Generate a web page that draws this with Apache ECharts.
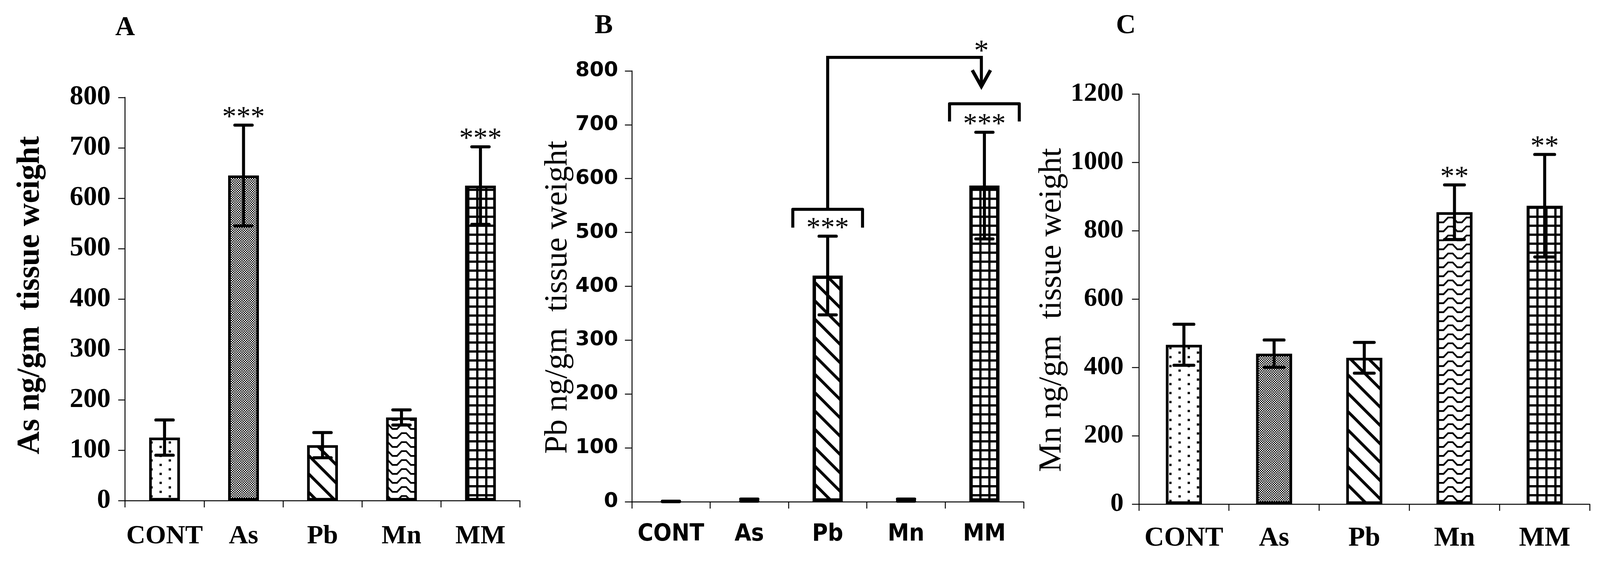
<!DOCTYPE html>
<html>
<head>
<meta charset="utf-8">
<script src="https://cdn.jsdelivr.net/npm/echarts@6/dist/echarts.min.js"></script>
<style>
html,body{margin:0;padding:0;background:#fff;overflow:hidden;}
#chart{width:100vw;height:100vh;}
</style>
</head>
<body>
<div id="chart"></div>
<script>
// ---------- data ----------
const categories = ['CONT', 'As', 'Pb', 'Mn', 'MM'];

const asMean = [125, 645, 110, 165, 625];
const asErr  = [35, 100, 25, 15, 77];
const asStars = ['', '***', '', '', '***'];

const pbMean = [0.5, 3, 420, 3, 587];
const pbErr  = [0.4, 2, 73, 2, 99];
const pbStars = ['', '', '***', '', '***'];

const mnMean = [466, 440, 428, 854, 873];
const mnErr  = [60, 40, 45, 80, 150];
const mnStars = ['', '', '', '**', '**'];

const asTicks = [0, 800, 100];
const pbTicks = [0, 800, 100];
const mnTicks = [0, 1200, 200];

// significance brackets in panel B (values in ng/gm)
const pbBrackets = [
  { cat: 'Pb', top: 543, end: 509 },
  { cat: 'MM', top: 739, end: 706 }
];
const pbLink = { from: 'Pb', to: 'MM', top: 825, tip: 771, star: '*', starAt: 841 };

// ---------- scale (layout designed for a 4222 x 1490 page) ----------
const el = document.getElementById('chart');
const K = el.clientWidth / 4222;
const s = v => v * K;

// ---------- patterns ----------
function tile(w, h, draw) {
  const c = document.createElement('canvas');
  c.width = Math.max(1, Math.round(s(w))); c.height = Math.max(1, Math.round(s(h)));
  const g = c.getContext('2d');
  g.scale(c.width / w, c.height / h);
  g.fillStyle = '#fff'; g.fillRect(0, 0, w, h);
  g.fillStyle = '#000'; g.strokeStyle = '#000';
  draw(g);
  return { image: c, repeat: 'repeat' };
}
const patDots = tile(48, 24, g => { g.fillRect(9, 3, 6, 6); g.fillRect(33, 15, 6, 6); });
const patChecker = tile(6, 6, g => { g.fillRect(0, 0, 3, 3); g.fillRect(3, 3, 3, 3); });
const patDiag = tile(48, 48, g => {
  g.lineWidth = 7.5;
  [-48, 0, 48].forEach(c => { g.beginPath(); g.moveTo(-4, c - 4); g.lineTo(52, 52 + c); g.stroke(); });
});
const patZig = tile(48, 24, g => {
  g.lineWidth = 4.5; g.lineJoin = 'miter';
  g.beginPath();
  g.moveTo(-6, 5); g.lineTo(6, 5); g.lineTo(18, 18); g.lineTo(30, 18); g.lineTo(42, 5); g.lineTo(54, 5);
  g.stroke();
});
const patGrid = tile(24, 24, g => { g.fillRect(0, 0, 24, 6); g.fillRect(0, 0, 6, 24); });
const patterns = [patDots, patChecker, patDiag, patZig, patGrid];

// ---------- helpers ----------
const SERIF = '"Liberation Serif", "Times New Roman", serif';
const SANS = '"Liberation Sans", Arial, sans-serif';
const WIDESANS = '"DejaVu Sans", "Liberation Sans", sans-serif';
const NARROWSANS = '"DejaVu Sans Condensed", "Liberation Sans", sans-serif';

function barData(means) {
  return means.map((v, i) => ({
    value: v,
    itemStyle: v < 10 ? { color: 'rgba(0,0,0,0)', borderWidth: 0 } : { color: patterns[i] }
  }));
}

function errSeries(idx, means, errs, stars, starSize) {
  return {
    type: 'custom',
    xAxisIndex: idx, yAxisIndex: idx,
    z: 5,
    clip: false,
    data: means.map((m, i) => [i, m, errs[i]]),
    renderItem: function (params, api) {
      const i = api.value(0), m = api.value(1), e = api.value(2);
      const top = api.coord([i, m + e]);
      const bot = api.coord([i, m - e]);
      const band = api.size([1, 0])[0];
      const hw = band * 0.11;
      const st = { stroke: '#000', lineWidth: s(8), lineCap: 'butt' };
      const ch = [
        { type: 'line', shape: { x1: top[0], y1: top[1], x2: bot[0], y2: bot[1] }, style: st },
        { type: 'line', shape: { x1: top[0] - hw, y1: top[1], x2: top[0] + hw, y2: top[1] }, style: Object.assign({}, st, { lineCap: 'round' }) },
        { type: 'line', shape: { x1: bot[0] - hw, y1: bot[1], x2: bot[0] + hw, y2: bot[1] }, style: Object.assign({}, st, { lineCap: 'round' }) }
      ];
      if (stars[i]) {
        ch.push({
          type: 'text',
          style: {
            text: stars[i], x: top[0], y: top[1] - s(19),
            align: 'center', verticalAlign: 'middle',
            font: 'normal ' + s(starSize) + 'px ' + SERIF, fill: '#000'
          }
        });
      }
      return { type: 'group', children: ch };
    }
  };
}

function barSeries(idx, means, widthPct, border) {
  return {
    type: 'bar',
    xAxisIndex: idx, yAxisIndex: idx,
    barWidth: widthPct,
    z: 2,
    itemStyle: { borderColor: '#000', borderWidth: s(border) },
    data: barData(means)
  };
}

function xAxisCfg(idx, font, size, margin) {
  return {
    type: 'category', gridIndex: idx, data: categories,
    axisLine: { lineStyle: { color: '#000', width: s(2.5) } },
    axisTick: { show: true, length: s(18), lineStyle: { color: '#000', width: s(2.5) } },
    axisLabel: { interval: 0, color: '#000', fontFamily: font, fontWeight: 'bold', fontSize: s(size), margin: s(margin) },
    splitLine: { show: false }
  };
}

function yAxisCfg(idx, ticks, font, size, margin, name, nameFont, nameWeight, nameSize, nameGap, namePad) {
  return {
    type: 'value', gridIndex: idx, min: ticks[0], max: ticks[1], interval: ticks[2],
    axisLine: { show: true, lineStyle: { color: '#000', width: s(2.5) } },
    axisTick: { show: true, length: s(18), lineStyle: { color: '#000', width: s(2.5) } },
    axisLabel: { color: '#000', fontFamily: font, fontWeight: 'bold', fontSize: s(size), margin: s(margin),
      formatter: v => String(v) },
    splitLine: { show: false },
    name: name, nameLocation: 'middle', nameRotate: 90, nameGap: s(nameGap),
    nameTextStyle: { color: '#000', fontFamily: nameFont, fontWeight: nameWeight, fontSize: s(nameSize),
      padding: namePad.map(s) }
  };
}

// brackets + link for panel B
const bracketSeries = {
  type: 'custom', xAxisIndex: 1, yAxisIndex: 1, z: 6, clip: false,
  data: pbBrackets.map(b => [categories.indexOf(b.cat), b.top, b.end]),
  renderItem: function (params, api) {
    const i = api.value(0);
    const t = api.coord([i, api.value(1)]);
    const e = api.coord([i, api.value(2)]);
    const band = api.size([1, 0])[0];
    const hw = band * 0.445;
    return {
      type: 'polyline',
      shape: { points: [[t[0] - hw, e[1]], [t[0] - hw, t[1]], [t[0] + hw, t[1]], [t[0] + hw, e[1]]] },
      style: { stroke: '#000', lineWidth: s(8), fill: null, lineJoin: 'round' }
    };
  }
};
const fromBracket = pbBrackets.find(b => b.cat === pbLink.from);
const linkSeries = {
  type: 'custom', xAxisIndex: 1, yAxisIndex: 1, z: 6, clip: false,
  data: [[categories.indexOf(pbLink.from), categories.indexOf(pbLink.to), fromBracket.top, pbLink.top, pbLink.tip, pbLink.starAt]],
  renderItem: function (params, api) {
    const a = api.coord([api.value(0), api.value(2)]);
    const topA = api.coord([api.value(0), api.value(3)]);
    const topB = api.coord([api.value(1), api.value(3)]);
    const tip = api.coord([api.value(1), api.value(4)]);
    const star = api.coord([api.value(1), api.value(5)]);
    const bx = tip[0] - s(8);
    return {
      type: 'group',
      children: [
        { type: 'polyline', shape: { points: [[a[0], a[1]], [topA[0], topA[1]], [bx, topB[1]], [bx, tip[1] - s(4)]] },
          style: { stroke: '#000', lineWidth: s(8), fill: null, lineJoin: 'miter' } },
        { type: 'polyline', shape: { points: [[bx - s(24), tip[1] - s(43)], [bx, tip[1]], [bx + s(24), tip[1] - s(43)]] },
          style: { stroke: '#000', lineWidth: s(9), fill: null, lineJoin: 'miter' } },
        { type: 'text', style: { text: pbLink.star, x: bx, y: star[1] + s(10), align: 'center', verticalAlign: 'middle',
          font: 'normal ' + s(78) + 'px ' + SERIF, fill: '#000' } }
      ]
    };
  }
};

const titleStyle = { fontFamily: SERIF, fontWeight: 'bold', fontSize: s(72), color: '#000' };
const option = {
  animation: false,
  backgroundColor: '#fff',
  title: [
    { text: 'A', left: s(304), top: s(38), padding: 0, textStyle: titleStyle },
    { text: 'B', left: s(1569), top: s(33), padding: 0, textStyle: titleStyle },
    { text: 'C', left: s(2945), top: s(33), padding: 0, textStyle: titleStyle }
  ],
  grid: [
    { left: s(330), top: s(257), width: s(1042), height: s(1064) },
    { left: s(1667), top: s(187), width: s(1034), height: s(1137) },
    { left: s(3005), top: s(248), width: s(1190), height: s(1082) }
  ],
  xAxis: [
    xAxisCfg(0, SERIF, 70, 60),
    xAxisCfg(1, NARROWSANS, 63, 55),
    xAxisCfg(2, SERIF, 72, 55)
  ],
  yAxis: [
    yAxisCfg(0, asTicks, SERIF, 72, 38, 'As ng/gm  tissue weight', SERIF, 'bold', 84, 208, [0, 0, 0, 20]),
    yAxisCfg(1, pbTicks, WIDESANS, 54, 36, 'Pb ng/gm  tissue weight', SERIF, 'normal', 86, 152, [0, 58, 0, 0]),
    yAxisCfg(2, mnTicks, SERIF, 70, 40, 'Mn ng/gm  tissue weight', SERIF, 'normal', 86, 186, [0, 58, 0, 0])
  ],
  series: [
    barSeries(0, asMean, '39%', 7),
    barSeries(1, pbMean, '38.5%', 9),
    barSeries(2, mnMean, '40%', 7),
    errSeries(0, asMean, asErr, asStars, 75),
    errSeries(1, pbMean, pbErr, pbStars, 75),
    errSeries(2, mnMean, mnErr, mnStars, 75),
    bracketSeries,
    linkSeries
  ]
};

const chart = echarts.init(el, null, { renderer: 'canvas' });
chart.setOption(option);
</script>
</body>
</html>
